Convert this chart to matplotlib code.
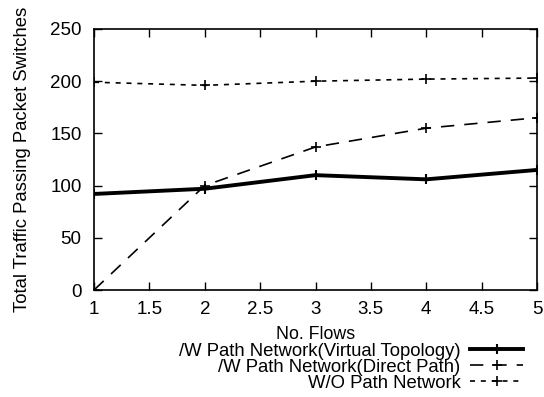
import matplotlib
matplotlib.use('Agg')
import matplotlib.pyplot as plt

plt.rcParams['font.family'] = ['Liberation Sans', 'DejaVu Sans']
plt.rcParams['font.size'] = 13.5

# Daten
flows = [1, 2, 3, 4, 5]
virtual_topology = [92, 97, 110, 106, 115]
direct_path = [0, 100, 137, 155, 165]
without_path = [199, 196, 200, 202, 203]

fig = plt.figure(figsize=(5.44, 3.97), dpi=100)
ax = fig.add_axes([0.1728, 0.2695, 0.8144, 0.6575])

ax.plot(flows, virtual_topology, color='black', lw=2.8, marker='+', ms=7, mew=1.5,
        label='/W Path Network(Virtual Topology)')
ax.plot(flows, direct_path, color='black', lw=1.2, dashes=(8, 6), marker='+', ms=7, mew=1.2,
        label='/W Path Network(Direct Path)')
ax.plot(flows, without_path, color='black', lw=1.2, dashes=(3, 3.5), marker='+', ms=7, mew=1.2,
        label='W/O Path Network')

ax.set_xlim(1, 5)
ax.set_ylim(0, 250)
ax.set_xticks([1, 1.5, 2, 2.5, 3, 3.5, 4, 4.5, 5])
ax.set_xticklabels(['1', '1.5', '2', '2.5', '3', '3.5', '4', '4.5', '5'])
ax.set_yticks([0, 50, 100, 150, 200, 250])
ax.tick_params(direction='in', top=True, right=True, length=6, width=1)
ax.tick_params(axis='x', pad=8)
ax.tick_params(axis='y', pad=9)
for s in ax.spines.values():
    s.set_linewidth(1.2)

ax.set_xlabel('No. Flows', fontsize=12.8, labelpad=6)
ax.set_ylabel('Total Traffic Passing Packet Switches', fontsize=13.3, labelpad=14)

fig.legend(loc='upper right', bbox_to_anchor=(0.962, 0.137), markerfirst=False,
           frameon=False, handlelength=2.9, handletextpad=0.5, labelspacing=-0.05,
           borderpad=0, borderaxespad=0, fontsize=13.3)

plt.savefig('out.png', dpi=100)
